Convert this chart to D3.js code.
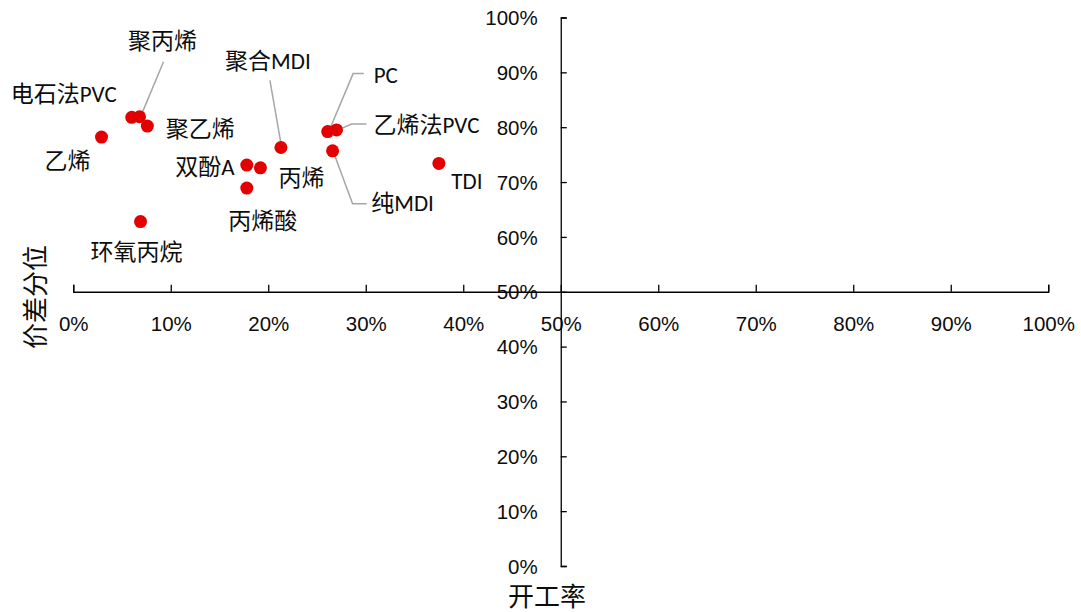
<!DOCTYPE html>
<html>
<head>
<meta charset="utf-8">
<script src="https://cdn.jsdelivr.net/npm/d3@7"></script>
<style>
  html, body { margin: 0; padding: 0; background: #fff; }
  svg { display: block; font-family: "Carlito", "Liberation Sans", "Noto Sans CJK SC", sans-serif; }
</style>
</head>
<body>
<svg id="chart" width="1081" height="612"></svg>
<script>
// ---- data ----
const names = ["乙烯", "电石法PVC", "聚丙烯", "聚乙烯", "环氧丙烷", "双酚A", "丙烯", "丙烯酸", "聚合MDI", "PC", "乙烯法PVC", "纯MDI", "TDI"];
const utilization = [0.029, 0.060, 0.068, 0.076, 0.069, 0.178, 0.192, 0.178, 0.213, 0.261, 0.270, 0.266, 0.375]; // 开工率
const spreadPct = [0.782, 0.818, 0.819, 0.802, 0.628, 0.731, 0.726, 0.689, 0.763, 0.792, 0.795, 0.757, 0.734]; // 价差分位
const tickValues = [0, 0.1, 0.2, 0.3, 0.4, 0.5, 0.6, 0.7, 0.8, 0.9, 1.0];
const xTitle = "开工率";
const yTitle = "价差分位";

// ---- layout (label offsets from point, leader polylines relative to point) ----
const labelOffsets = [[-34, 24], [-68, -23], [23, -76], [53, 3], [-4, 30], [-42, 2], [41, 10], [16, 33], [-13, -87], [58, -57], [90, -5], [70, 52], [28, 18]];
const leaders = {
  "聚丙烯": [[24, -55], [2.4, -3.4]],
  "聚合MDI": [[-11, -67], [0, -4]],
  "PC": [[36, -58], [25.4, -58], [2, -2.4]],
  "乙烯法PVC": [[30, -6], [15, -6], [0, 0.7]],
  "纯MDI": [[34, 53], [20, 53], [0, -1]]
};

const svg = d3.select("#chart");
const x = d3.scaleLinear().domain([0, 1]).range([73.25, 1048.25]);
const y = d3.scaleLinear().domain([0, 1]).range([566, 17.5]);
const fmt = d3.format(".0%");
const cjk = '"Carlito", "Liberation Sans", "Noto Sans CJK SC", sans-serif';

// x axis at y = 50%
const xAxis = svg.append("g")
  .attr("transform", `translate(0,${y(0.5)})`)
  .call(d3.axisTop(x).tickValues(tickValues).tickFormat(fmt).tickSize(7).tickSizeOuter(7));
xAxis.select(".domain").attr("stroke", "#000").attr("stroke-width", 1.3);
xAxis.selectAll(".tick line").attr("stroke", "#000").attr("stroke-width", 1.3);
xAxis.selectAll(".tick text")
  .attr("y", 32).attr("dy", "0.35em")
  .attr("font-size", 20.5).attr("fill", "#0d0d0d");

// y axis at x = 50%
const yAxis = svg.append("g")
  .attr("transform", `translate(${x(0.5)},0)`)
  .call(d3.axisRight(y).tickValues(tickValues).tickFormat(fmt).tickSize(6).tickSizeOuter(6));
yAxis.select(".domain").attr("stroke", "#000").attr("stroke-width", 1.3);
yAxis.selectAll(".tick line").attr("stroke", "#000").attr("stroke-width", 1.3);
yAxis.selectAll(".tick text")
  .attr("x", -23).attr("text-anchor", "end").attr("dy", "0.35em")
  .attr("font-size", 20.5).attr("fill", "#0d0d0d");

// axis titles
svg.append("text")
  .attr("x", 547).attr("y", 597).attr("dy", "0.35em")
  .attr("text-anchor", "middle").attr("font-size", 26).attr("fill", "#0d0d0d")
  .style("font-family", cjk)
  .text(xTitle);
svg.append("text")
  .attr("transform", "translate(36,297) rotate(-90)")
  .attr("dy", "0.35em")
  .attr("text-anchor", "middle").attr("font-size", 26).attr("fill", "#0d0d0d")
  .style("font-family", cjk)
  .text(yTitle);

// data rows
const rows = names.map((n, i) => ({ name: n, u: utilization[i], s: spreadPct[i], off: labelOffsets[i] }));

// leader lines
const line = d3.line();
svg.append("g").selectAll("path")
  .data(rows.filter(d => leaders[d.name]))
  .join("path")
  .attr("d", d => line(leaders[d.name].map(p => [x(d.u) + p[0], y(d.s) + p[1]])))
  .attr("fill", "none").attr("stroke", "#a6a6a6").attr("stroke-width", 1.5);

// points
svg.append("g").selectAll("circle")
  .data(rows)
  .join("circle")
  .attr("cx", d => x(d.u)).attr("cy", d => y(d.s)).attr("r", 6.5)
  .attr("fill", "#e30000");

// labels
svg.append("g").selectAll("text")
  .data(rows)
  .join("text")
  .attr("x", d => x(d.u) + d.off[0]).attr("y", d => y(d.s) + d.off[1])
  .attr("dy", "0.35em").attr("text-anchor", "middle")
  .attr("font-size", 23).attr("fill", "#0d0d0d")
  .style("font-family", cjk)
  .text(d => d.name);
</script>
</body>
</html>
